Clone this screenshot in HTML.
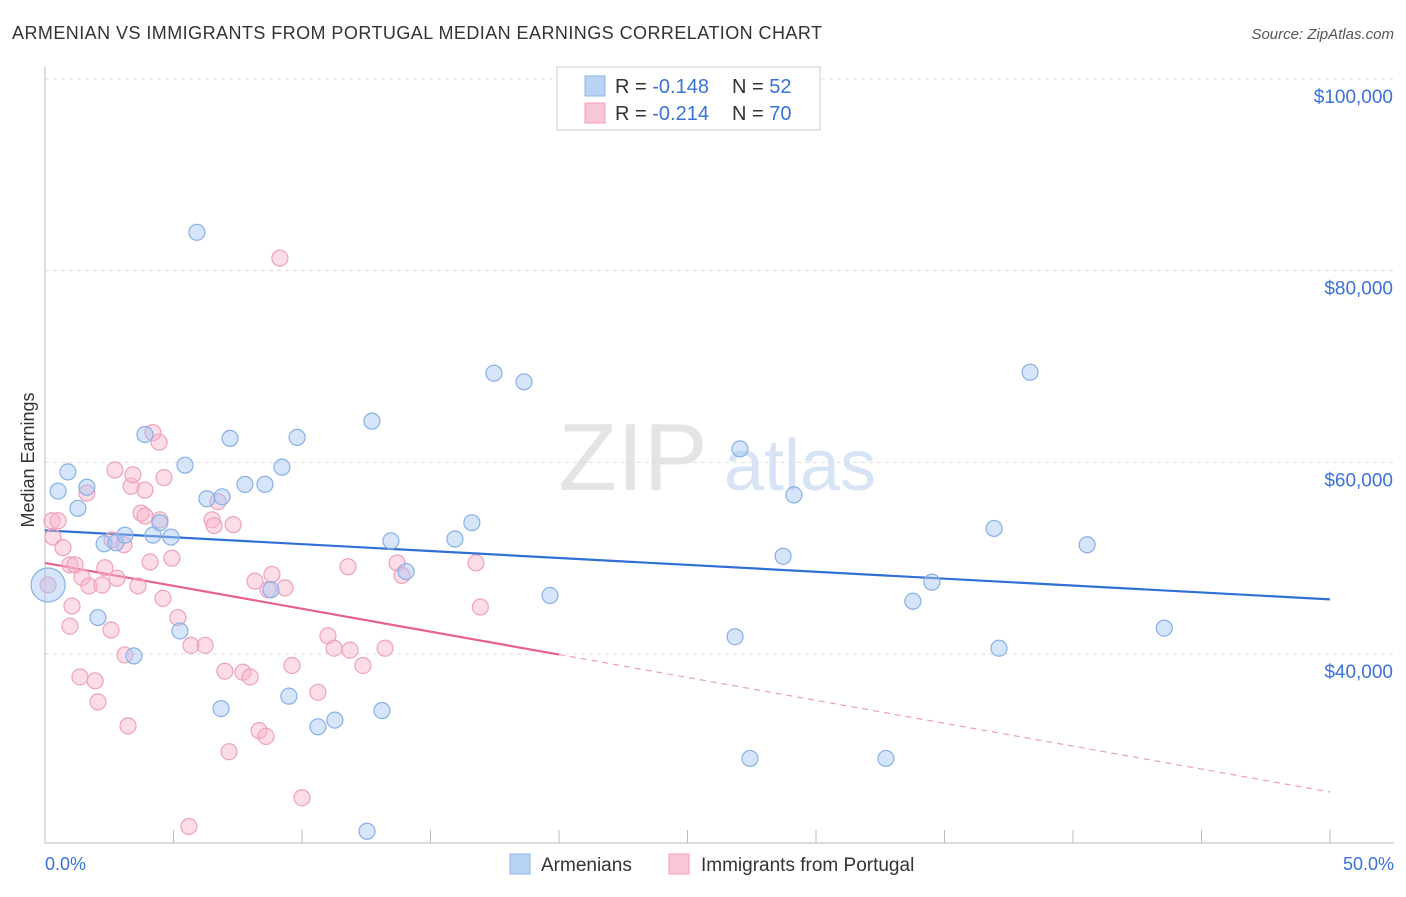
<!DOCTYPE html>
<html><head><meta charset="utf-8"><style>
body{margin:0;background:#fff;font-family:"Liberation Sans",sans-serif;}
svg text{font-family:"Liberation Sans",sans-serif;}
</style></head><body>
<svg id="chart" width="1406" height="892">
<text x="12" y="39" font-size="18" fill="#333" textLength="810" lengthAdjust="spacing">ARMENIAN VS IMMIGRANTS FROM PORTUGAL MEDIAN EARNINGS CORRELATION CHART</text>
<text x="1394" y="39" font-size="15" fill="#555" font-style="italic" text-anchor="end">Source: ZipAtlas.com</text>
<text x="34" y="460" font-size="18" fill="#333" text-anchor="middle" transform="rotate(-90 34 460)">Median Earnings</text>
<g><text x="633" y="490" font-size="96" fill="#e4e4e4" font-family="Liberation Serif" text-anchor="middle">ZIP</text><text x="800" y="490" font-size="72" fill="#d6e4f5" text-anchor="middle">atlas</text></g>
<g id="grid"></g><g id="axes"></g><g id="trends"></g><g id="pts"></g>
<g>
<rect x="557" y="67" width="263" height="63" fill="#fff" stroke="#ccc"/>
<rect x="585" y="76" width="20" height="20" fill="#b8d3f5" stroke="#8fb5e8"/>
<rect x="585" y="103" width="20" height="20" fill="#f9c6d6" stroke="#f0a0b8"/>
<text x="615" y="93" font-size="20" fill="#333">R = <tspan fill="#3a72d8">-0.148</tspan></text>
<text x="732" y="93" font-size="20" fill="#333">N = <tspan fill="#3a72d8">52</tspan></text>
<text x="615" y="120" font-size="20" fill="#333">R = <tspan fill="#3a72d8">-0.214</tspan></text>
<text x="732" y="120" font-size="20" fill="#333">N = <tspan fill="#3a72d8">70</tspan></text>
</g>
<g>
<rect x="510" y="854" width="20" height="20" fill="#b8d3f5" stroke="#8fb5e8"/>
<text x="541" y="871" font-size="19" fill="#333">Armenians</text>
<rect x="669" y="854" width="20" height="20" fill="#f9c6d6" stroke="#f0a0b8"/>
<text x="701" y="871" font-size="19" fill="#333">Immigrants from Portugal</text>
</g>
<text x="45" y="870" font-size="18" fill="#3a72d8">0.0%</text>
<text x="1394" y="870" font-size="18" fill="#3a72d8" text-anchor="end">50.0%</text>
</svg>
<script>
const yTicks=[100000,80000,60000,40000];
const yTickLabels=["$100,000","$80,000","$60,000","$40,000"];
const xTicks=[0,5,10,15,20,25,30,35,40,45,50];
const blueX=[5.91,0.89,0.51,1.28,1.63,2.30,2.76,3.11,3.89,4.20,4.47,4.90,5.45,6.30,6.89,7.20,7.78,8.56,9.22,9.81,8.79,9.49,6.85,10.62,11.28,13.11,12.53,12.72,13.46,14.05,15.95,16.61,17.47,18.64,19.65,27.04,29.14,28.72,26.85,27.43,32.72,33.77,34.51,36.93,37.12,38.33,40.55,43.55,2.06,3.46,5.25,0.12];
const blueY=[84.0,59.0,57.0,55.2,57.4,51.5,51.6,52.4,62.9,52.4,53.7,52.2,59.7,56.2,56.4,62.5,57.7,57.7,59.5,62.6,46.7,35.6,34.3,32.4,33.1,34.1,21.5,64.3,51.8,48.6,52.0,53.7,69.3,68.4,46.1,61.4,56.6,50.2,41.8,29.1,29.1,45.5,47.5,53.1,40.6,69.4,51.4,42.7,43.8,39.8,42.4,47.2];
const pinkX=[9.14,0.27,0.51,0.31,0.70,0.97,1.17,1.44,1.71,1.63,2.22,2.33,2.80,3.62,1.05,0.97,2.57,3.11,1.36,1.95,2.06,3.23,2.72,3.35,3.42,3.89,3.74,3.89,4.09,4.63,4.20,4.44,4.94,4.59,5.17,5.68,6.23,6.50,6.58,6.73,7.32,7.00,7.70,7.98,7.16,5.60,8.17,8.83,9.34,8.68,8.33,8.60,9.61,10.62,10.00,11.01,11.25,11.79,11.87,12.37,13.23,13.70,13.89,16.77,16.94,0.12,2.61,3.07,4.47];
const pinkY=[81.3,53.9,53.9,52.2,51.1,49.3,49.3,48.0,47.1,56.8,47.2,49.0,47.9,47.1,45.0,42.9,42.5,39.9,37.6,37.2,35.0,32.5,59.2,57.5,58.7,57.1,54.7,54.4,49.6,58.4,63.1,62.1,50.0,45.8,43.8,40.9,40.9,54.0,53.4,55.9,53.5,38.2,38.1,37.6,29.8,22.0,47.6,48.3,46.9,46.7,32.0,31.4,38.8,36.0,25.0,41.9,40.6,49.1,40.4,38.8,40.6,49.5,48.2,49.5,44.9,47.2,51.9,51.4,54.0];
const blueTrend=[52.9,45.7];
const pinkTrend=[49.5,25.6];
const pinkSolidEnd=20;
const NS="http://www.w3.org/2000/svg";
const xs=p=>45+p*(1285/50);
const ys=k=>79+(100-k)*9.583;
function mk(t,a,parent){const e=document.createElementNS(NS,t);for(const k in a)e.setAttribute(k,a[k]);document.getElementById(parent).appendChild(e);return e;}
yTicks.forEach((v,i)=>{const y=ys(v/1000);
 const g=mk('line',{x1:45,x2:1394,y1:y,y2:y,stroke:'#ddd','stroke-dasharray':'4,4'},'grid');
 
 
 const t=mk('text',{x:1393,y:y+24,'font-size':19,fill:'#3a72d8','text-anchor':'end'},'axes');t.textContent=yTickLabels[i];
 
 });
mk('line',{x1:45,x2:45,y1:67,y2:843,stroke:'#bbb'},'axes');
mk('line',{x1:45,x2:1394,y1:843,y2:843,stroke:'#bbb'},'axes');
xTicks.forEach(p=>{const t=mk('line',{x1:xs(p),x2:xs(p),y1:830,y2:843,stroke:'#bbb'},'axes');
 
 });
let l=mk('line',{x1:xs(0),y1:ys(blueTrend[0]),x2:xs(50),y2:ys(blueTrend[1]),stroke:'#2f6fd6','stroke-width':2.2},'trends');


const pAt=p=>pinkTrend[0]+(pinkTrend[1]-pinkTrend[0])*p/50;
l=mk('line',{x1:xs(0),y1:ys(pinkTrend[0]),x2:xs(pinkSolidEnd),y2:ys(pAt(pinkSolidEnd)),stroke:'#e8608e','stroke-width':2.2},'trends');


l=mk('line',{x1:xs(pinkSolidEnd),y1:ys(pAt(pinkSolidEnd)),x2:xs(50),y2:ys(pinkTrend[1]),stroke:'#e8a0b8','stroke-width':1.2,'stroke-dasharray':'6,5'},'trends');


pinkX.forEach((x,i)=>{const c=mk('circle',{cx:xs(x),cy:ys(pinkY[i]),r:8,fill:'rgba(248,180,202,0.45)',stroke:'#eea2bb','stroke-width':1.2},'pts');
 
 });
blueX.forEach((x,i)=>{const c=mk('circle',{cx:xs(x),cy:ys(blueY[i]),r:i===blueX.length-1?17:8,fill:'rgba(165,198,242,0.45)',stroke:'#88b0e6','stroke-width':1.2},'pts');
 
 });
</script>
</body></html>
